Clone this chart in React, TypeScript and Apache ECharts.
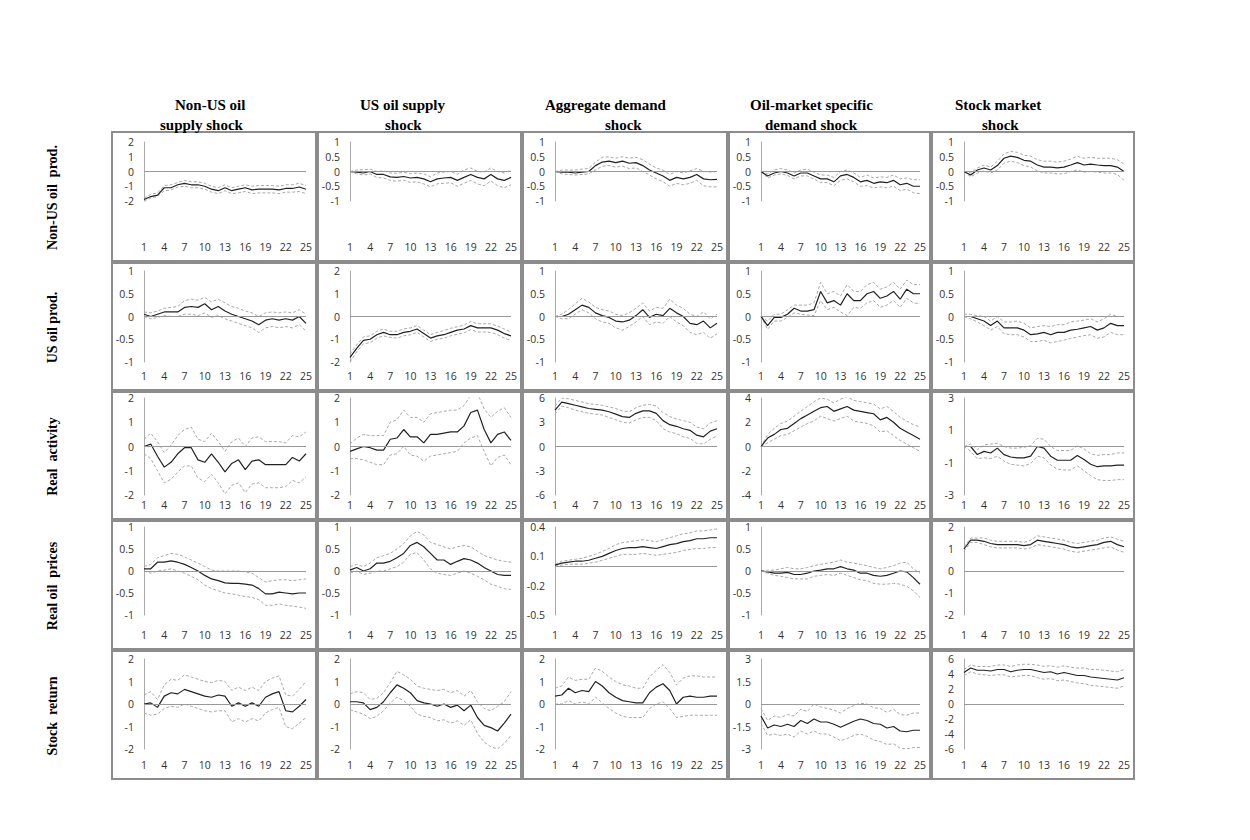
import { useEffect, useRef } from 'react';
import * as echarts from 'echarts';

const steps = Array.from({ length: 25 }, (_, i) => String(i + 1));
const colTitles = [
    ['Non-US oil', 'supply shock'],
    ['US oil supply', 'shock'],
    ['Aggregate demand', 'shock'],
    ['Oil-market specific', 'demand shock'],
    ['Stock market', 'shock'],
];
const rowTitles = ['Non-US oil  prod.', 'US oil prod.', 'Real  activity', 'Real oil  prices', 'Stock  return'];

// y range per panel: [min, max, interval]
const yRanges = [
    [[-2, 2, 1], [-1, 1, 0.5], [-1, 1, 0.5], [-1, 1, 0.5], [-1, 1, 0.5]],
    [[-1, 1, 0.5], [-2, 2, 1], [-1, 1, 0.5], [-1, 1, 0.5], [-1, 1, 0.5]],
    [[-2, 2, 1], [-2, 2, 1], [-6, 6, 3], [-4, 4, 2], [-3, 3, 2]],
    [[-1, 1, 0.5], [-1, 1, 0.5], [-0.5, 0.4, 0.3], [-1, 1, 0.5], [-2, 2, 1]],
    [[-2, 2, 1], [-2, 2, 1], [-2, 2, 1], [-3, 3, 1.5], [-6, 6, 2]],
];

// row 1: Non-US oil production
const r1c1Mid = [-1.9, -1.7, -1.6, -1.1, -1.1, -0.9, -0.8, -0.9, -0.9, -1.0, -1.2, -1.3, -1.1, -1.3, -1.2, -1.1, -1.25, -1.2, -1.2, -1.2, -1.25, -1.15, -1.15, -1.05, -1.2];
const r1c1Lo = [-2.0, -1.8, -1.7, -1.3, -1.25, -1.05, -1.0, -1.1, -1.1, -1.2, -1.4, -1.5, -1.3, -1.5, -1.45, -1.35, -1.5, -1.45, -1.45, -1.45, -1.5, -1.4, -1.4, -1.35, -1.5];
const r1c1Hi = [-1.8, -1.55, -1.45, -0.95, -0.9, -0.75, -0.6, -0.7, -0.7, -0.8, -1.0, -1.1, -0.9, -1.1, -1.0, -0.9, -1.0, -0.95, -0.95, -0.95, -1.0, -0.9, -0.9, -0.8, -0.95];
const r1c2Mid = [0, -0.02, -0.05, 0, -0.1, -0.1, -0.18, -0.2, -0.17, -0.22, -0.2, -0.25, -0.35, -0.25, -0.22, -0.2, -0.3, -0.2, -0.1, -0.2, -0.25, -0.1, -0.25, -0.3, -0.2];
const r1c2Lo = [0, -0.08, -0.12, -0.08, -0.2, -0.22, -0.3, -0.33, -0.3, -0.37, -0.35, -0.42, -0.52, -0.42, -0.4, -0.38, -0.5, -0.4, -0.3, -0.42, -0.48, -0.32, -0.48, -0.55, -0.45];
const r1c2Hi = [0, 0.05, 0.06, 0.08, 0, 0.02, -0.05, -0.06, -0.03, -0.07, -0.05, -0.08, -0.18, -0.05, -0.02, 0, -0.1, 0.05, 0.12, 0, -0.02, 0.12, 0, -0.05, 0.05];
const r1c3Mid = [0, -0.02, -0.02, -0.05, -0.02, 0, 0.2, 0.32, 0.35, 0.3, 0.35, 0.28, 0.3, 0.2, 0.05, -0.05, -0.15, -0.3, -0.2, -0.25, -0.2, -0.1, -0.25, -0.28, -0.27];
const r1c3Lo = [0, -0.08, -0.1, -0.12, -0.1, -0.08, 0.05, 0.18, 0.2, 0.15, 0.18, 0.1, 0.12, 0, -0.12, -0.25, -0.35, -0.5, -0.4, -0.45, -0.4, -0.3, -0.48, -0.52, -0.52];
const r1c3Hi = [0, 0.05, 0.05, 0.05, 0.08, 0.1, 0.32, 0.48, 0.5, 0.45, 0.5, 0.45, 0.48, 0.4, 0.25, 0.12, 0.05, -0.1, 0, -0.05, 0.02, 0.1, 0, -0.02, 0];
const r1c4Mid = [0, -0.15, -0.05, 0, -0.05, -0.15, -0.05, -0.05, -0.15, -0.25, -0.25, -0.35, -0.15, -0.1, -0.2, -0.35, -0.3, -0.4, -0.35, -0.38, -0.3, -0.45, -0.4, -0.5, -0.5];
const r1c4Lo = [0, -0.22, -0.12, -0.08, -0.13, -0.25, -0.15, -0.15, -0.26, -0.37, -0.38, -0.48, -0.3, -0.25, -0.35, -0.5, -0.48, -0.56, -0.52, -0.55, -0.5, -0.65, -0.6, -0.72, -0.75];
const r1c4Hi = [0, -0.08, 0.05, 0.1, 0.05, -0.05, 0.05, 0.08, -0.02, -0.12, -0.12, -0.2, 0, 0.05, -0.05, -0.2, -0.12, -0.22, -0.18, -0.2, -0.12, -0.25, -0.22, -0.28, -0.28];
const r1c5Mid = [0, -0.12, 0.05, 0.12, 0.05, 0.2, 0.45, 0.52, 0.48, 0.38, 0.35, 0.22, 0.15, 0.15, 0.12, 0.15, 0.22, 0.3, 0.22, 0.25, 0.22, 0.2, 0.2, 0.15, 0];
const r1c5Lo = [0, -0.18, -0.05, 0.02, -0.05, 0.05, 0.28, 0.35, 0.3, 0.2, 0.15, 0.02, -0.05, -0.05, -0.08, -0.08, 0, 0.05, -0.02, 0, -0.02, -0.05, -0.05, -0.1, -0.3];
const r1c5Hi = [0, -0.05, 0.12, 0.22, 0.15, 0.35, 0.6, 0.68, 0.65, 0.55, 0.52, 0.4, 0.35, 0.35, 0.32, 0.35, 0.42, 0.52, 0.45, 0.48, 0.45, 0.45, 0.45, 0.4, 0.25];

// row 2: US oil production
const r2c1Mid = [0.05, 0, 0.05, 0.1, 0.1, 0.1, 0.2, 0.22, 0.2, 0.28, 0.15, 0.22, 0.12, 0.05, 0, -0.05, -0.1, -0.18, -0.08, -0.05, -0.08, -0.05, -0.08, 0, -0.15];
const r2c1Lo = [0, -0.05, -0.02, 0.02, 0, 0, 0.05, 0.05, 0.02, 0.08, -0.02, 0.02, -0.05, -0.1, -0.15, -0.2, -0.25, -0.35, -0.25, -0.22, -0.25, -0.22, -0.25, -0.18, -0.32];
const r2c1Hi = [0.1, 0.08, 0.12, 0.18, 0.2, 0.22, 0.35, 0.38, 0.36, 0.42, 0.32, 0.38, 0.3, 0.22, 0.18, 0.12, 0.08, 0, 0.08, 0.1, 0.08, 0.1, 0.08, 0.15, 0.05];
const r2c2Mid = [-1.8, -1.4, -1.05, -1.0, -0.8, -0.7, -0.8, -0.8, -0.7, -0.65, -0.55, -0.75, -0.95, -0.85, -0.8, -0.7, -0.6, -0.55, -0.4, -0.5, -0.5, -0.5, -0.6, -0.75, -0.85];
const r2c2Lo = [-2.0, -1.55, -1.2, -1.15, -0.95, -0.85, -0.92, -0.95, -0.85, -0.8, -0.7, -0.9, -1.1, -1.0, -0.95, -0.85, -0.78, -0.72, -0.58, -0.68, -0.68, -0.7, -0.8, -0.95, -1.05];
const r2c2Hi = [-1.65, -1.25, -0.9, -0.85, -0.65, -0.55, -0.65, -0.65, -0.55, -0.5, -0.4, -0.6, -0.8, -0.7, -0.62, -0.52, -0.45, -0.38, -0.22, -0.32, -0.32, -0.32, -0.42, -0.55, -0.68];
const r2c3Mid = [0, 0, 0.05, 0.15, 0.25, 0.2, 0.08, 0.02, -0.02, -0.1, -0.12, -0.08, 0.02, 0.15, -0.02, 0.05, 0.02, 0.18, 0.08, 0, -0.15, -0.18, -0.1, -0.25, -0.15];
const r2c3Lo = [0, -0.05, -0.05, 0.05, 0.15, 0.08, -0.05, -0.12, -0.15, -0.25, -0.3, -0.22, -0.12, 0, -0.18, -0.12, -0.15, 0, -0.12, -0.2, -0.35, -0.4, -0.35, -0.48, -0.38];
const r2c3Hi = [0, 0.05, 0.15, 0.28, 0.4, 0.32, 0.2, 0.15, 0.12, 0.05, 0.02, 0.08, 0.18, 0.3, 0.12, 0.2, 0.18, 0.38, 0.25, 0.18, 0.05, 0, 0.1, -0.05, 0.05];
const r2c4Mid = [0, -0.2, -0.02, -0.02, 0.05, 0.18, 0.12, 0.12, 0.15, 0.55, 0.3, 0.35, 0.25, 0.5, 0.35, 0.35, 0.5, 0.55, 0.4, 0.45, 0.55, 0.38, 0.6, 0.5, 0.5];
const r2c4Lo = [0, -0.28, -0.1, -0.1, -0.02, 0.08, 0.05, 0.03, 0.02, 0.35, 0.15, 0.2, 0.1, 0.02, 0.2, 0.18, 0.3, 0.35, 0.2, 0.25, 0.35, 0.2, 0.4, 0.3, 0.28];
const r2c4Hi = [0, -0.1, 0.05, 0.05, 0.15, 0.25, 0.25, 0.25, 0.3, 0.75, 0.5, 0.55, 0.45, 0.7, 0.55, 0.55, 0.7, 0.75, 0.6, 0.65, 0.75, 0.6, 0.8, 0.7, 0.7];
const r2c5Mid = [0, 0, -0.05, -0.1, -0.2, -0.1, -0.25, -0.25, -0.25, -0.3, -0.4, -0.38, -0.35, -0.4, -0.35, -0.35, -0.3, -0.28, -0.25, -0.22, -0.3, -0.25, -0.15, -0.2, -0.2];
const r2c5Lo = [0, -0.05, -0.12, -0.2, -0.3, -0.22, -0.38, -0.4, -0.4, -0.45, -0.55, -0.55, -0.52, -0.58, -0.55, -0.52, -0.48, -0.45, -0.42, -0.4, -0.48, -0.45, -0.35, -0.4, -0.4];
const r2c5Hi = [0.05, 0.05, 0.02, 0, -0.1, 0, -0.12, -0.12, -0.1, -0.15, -0.25, -0.22, -0.2, -0.22, -0.18, -0.18, -0.12, -0.1, -0.08, -0.05, -0.12, -0.05, 0.05, 0, 0];

// row 3: real activity
const r3c1Mid = [0, 0.1, -0.4, -0.85, -0.65, -0.3, -0.05, -0.05, -0.55, -0.65, -0.3, -0.65, -1.05, -0.7, -0.55, -0.95, -0.6, -0.55, -0.75, -0.75, -0.75, -0.75, -0.45, -0.6, -0.3];
const r3c1Lo = [-0.3, -0.5, -1.0, -1.5, -1.35, -1.05, -0.8, -0.8, -1.3, -1.45, -1.15, -1.5, -1.95, -1.6, -1.5, -1.9, -1.55, -1.5, -1.7, -1.7, -1.7, -1.65, -1.4, -1.5, -1.25];
const r3c1Hi = [0.3, 0.55, 0.2, -0.25, 0.05, 0.45, 0.7, 0.8, 0.3, 0.2, 0.55, 0.2, -0.2, 0.2, 0.35, 0, 0.35, 0.4, 0.2, 0.2, 0.2, 0.15, 0.45, 0.4, 0.6];
const r3c2Mid = [-0.2, -0.1, 0, -0.05, -0.15, -0.15, 0.3, 0.35, 0.7, 0.4, 0.4, 0.15, 0.5, 0.5, 0.55, 0.6, 0.6, 0.85, 1.4, 1.5, 0.7, 0.15, 0.5, 0.6, 0.25];
const r3c2Lo = [-0.5, -0.5, -0.55, -0.65, -0.75, -0.75, -0.35, -0.3, 0, -0.35, -0.4, -0.6, -0.4, -0.35, -0.3, -0.25, -0.2, 0.15, 0.35, 0.45, -0.2, -0.8, -0.45, -0.35, -0.75];
const r3c2Hi = [0.1, 0.35, 0.5, 0.45, 0.45, 0.45, 1.0, 1.1, 1.5, 1.2, 1.2, 1.0, 1.35, 1.4, 1.45, 1.5, 1.5, 1.7, 2.1, 2.2, 1.55, 1.2, 1.45, 1.6, 1.2];
const r3c3Mid = [4.5, 5.5, 5.3, 5.1, 4.9, 4.7, 4.6, 4.5, 4.3, 4.0, 3.7, 3.6, 4.1, 4.4, 4.4, 4.1, 3.2, 2.7, 2.5, 2.2, 2.0, 1.4, 1.2, 1.9, 2.2];
const r3c3Lo = [4.0, 5.0, 4.8, 4.5, 4.3, 4.1, 4.0, 3.9, 3.6, 3.3, 3.0, 2.9, 3.3, 3.6, 3.6, 3.2, 2.2, 1.8, 1.6, 1.2, 1.0, 0.4, 0.3, 0.9, 1.3];
const r3c3Hi = [5.0, 6.0, 5.9, 5.7, 5.5, 5.3, 5.2, 5.1, 4.9, 4.7, 4.4, 4.3, 4.8, 5.1, 5.2, 5.0, 4.2, 3.7, 3.4, 3.2, 3.0, 2.4, 2.2, 2.9, 3.2];
const r3c4Mid = [0, 0.7, 1.0, 1.4, 1.5, 1.9, 2.3, 2.6, 2.9, 3.2, 3.3, 2.9, 3.1, 3.3, 3.0, 2.9, 2.8, 2.7, 2.2, 2.4, 2.0, 1.5, 1.2, 0.9, 0.6];
const r3c4Lo = [0, 0.3, 0.6, 0.9, 1.0, 1.3, 1.6, 1.9, 2.1, 2.5, 2.3, 2.1, 2.3, 2.5, 2.1, 2.0, 1.9, 1.7, 1.2, 1.3, 0.9, 0.5, 0.2, -0.1, -0.4];
const r3c4Hi = [0, 1.0, 1.5, 1.9, 2.1, 2.5, 2.9, 3.3, 3.7, 4.0, 3.9, 3.6, 3.9, 4.1, 3.8, 3.7, 3.6, 3.5, 3.1, 3.3, 2.9, 2.4, 2.1, 1.8, 1.6];
const r3c5Mid = [0, 0, -0.5, -0.3, -0.4, -0.1, -0.5, -0.65, -0.7, -0.7, -0.6, 0, -0.1, -0.6, -0.85, -0.85, -0.85, -0.55, -0.8, -1.1, -1.25, -1.2, -1.2, -1.15, -1.15];
const r3c5Lo = [0, -0.3, -0.75, -0.7, -0.75, -0.6, -0.9, -1.1, -1.15, -1.2, -1.05, -0.6, -0.7, -1.15, -1.4, -1.45, -1.45, -1.2, -1.5, -1.8, -2.05, -2.1, -2.1, -2.05, -2.05];
const r3c5Hi = [0, 0.15, -0.2, 0.1, 0.15, 0.2, 0, -0.1, -0.1, -0.05, 0.05, 0.5, 0.45, 0, -0.25, -0.25, -0.25, 0.05, -0.15, -0.45, -0.55, -0.5, -0.5, -0.4, -0.4];

// row 4: real oil prices
const r4c1Mid = [0.05, 0.05, 0.2, 0.2, 0.23, 0.2, 0.15, 0.08, 0, -0.1, -0.18, -0.22, -0.27, -0.28, -0.28, -0.3, -0.32, -0.4, -0.52, -0.52, -0.48, -0.5, -0.52, -0.5, -0.5];
const r4c1Lo = [0, -0.05, 0, 0.02, 0.05, 0, -0.05, -0.12, -0.2, -0.32, -0.4, -0.45, -0.5, -0.52, -0.55, -0.58, -0.6, -0.65, -0.78, -0.78, -0.75, -0.78, -0.8, -0.82, -0.85];
const r4c1Hi = [0.1, 0.15, 0.3, 0.35, 0.4, 0.38, 0.32, 0.25, 0.18, 0.1, 0.02, 0, 0, 0, 0, -0.02, -0.05, -0.15, -0.25, -0.22, -0.2, -0.2, -0.22, -0.2, -0.18];
const r4c2Mid = [0.02, 0.08, 0, 0.05, 0.18, 0.18, 0.22, 0.3, 0.4, 0.58, 0.65, 0.55, 0.4, 0.25, 0.25, 0.15, 0.22, 0.28, 0.25, 0.18, 0.08, 0, -0.08, -0.1, -0.1];
const r4c2Lo = [-0.05, 0, -0.08, -0.05, 0, 0, 0.05, 0.1, 0.2, 0.38, 0.42, 0.25, 0.05, -0.05, -0.08, -0.1, -0.05, 0, -0.05, -0.12, -0.2, -0.3, -0.35, -0.4, -0.42];
const r4c2Hi = [0.1, 0.15, 0.1, 0.18, 0.3, 0.35, 0.4, 0.5, 0.62, 0.8, 0.9, 0.82, 0.65, 0.6, 0.55, 0.5, 0.55, 0.58, 0.55, 0.45, 0.35, 0.3, 0.25, 0.22, 0.2];
const r4c3Mid = [0.01, 0.03, 0.04, 0.05, 0.05, 0.06, 0.08, 0.1, 0.13, 0.16, 0.18, 0.19, 0.19, 0.2, 0.19, 0.18, 0.2, 0.22, 0.23, 0.25, 0.26, 0.28, 0.28, 0.29, 0.29];
const r4c3Lo = [0, 0.01, 0.02, 0.02, 0.02, 0.03, 0.04, 0.06, 0.08, 0.1, 0.12, 0.12, 0.12, 0.13, 0.12, 0.11, 0.12, 0.13, 0.14, 0.16, 0.17, 0.18, 0.18, 0.19, 0.19];
const r4c3Hi = [0.02, 0.05, 0.06, 0.07, 0.08, 0.1, 0.12, 0.15, 0.18, 0.22, 0.24, 0.25, 0.26, 0.27, 0.26, 0.25, 0.27, 0.29, 0.31, 0.33, 0.34, 0.36, 0.36, 0.37, 0.38];
const r4c4Mid = [0, -0.02, -0.05, -0.05, -0.03, -0.08, -0.08, -0.05, 0, 0.02, 0.05, 0.05, 0.1, 0.05, 0.02, -0.05, -0.05, -0.1, -0.12, -0.1, -0.05, 0, -0.02, -0.15, -0.3];
const r4c4Lo = [0, -0.05, -0.1, -0.12, -0.15, -0.18, -0.18, -0.18, -0.12, -0.1, -0.08, -0.1, -0.05, -0.1, -0.15, -0.2, -0.22, -0.28, -0.3, -0.3, -0.28, -0.3, -0.35, -0.45, -0.6];
const r4c4Hi = [0, 0.02, 0.02, 0.05, 0.08, 0.05, 0.05, 0.08, 0.12, 0.15, 0.18, 0.2, 0.25, 0.2, 0.18, 0.15, 0.12, 0.08, 0.05, 0.08, 0.12, 0.18, 0.2, 0.05, -0.05];
const r4c5Mid = [1.0, 1.4, 1.4, 1.35, 1.25, 1.2, 1.2, 1.2, 1.2, 1.15, 1.2, 1.4, 1.35, 1.3, 1.25, 1.2, 1.1, 1.05, 1.1, 1.15, 1.2, 1.3, 1.35, 1.2, 1.1];
const r4c5Lo = [0.9, 1.3, 1.3, 1.2, 1.1, 1.05, 1.05, 1.05, 1.05, 1.0, 1.05, 1.2, 1.15, 1.1, 1.05, 1.0, 0.9, 0.85, 0.9, 0.95, 1.0, 1.05, 1.1, 0.95, 0.85];
const r4c5Hi = [1.1, 1.5, 1.5, 1.5, 1.4, 1.35, 1.35, 1.35, 1.35, 1.3, 1.4, 1.6, 1.55, 1.5, 1.45, 1.4, 1.3, 1.25, 1.3, 1.35, 1.4, 1.5, 1.55, 1.45, 1.35];

// row 5: stock return
const r5c1Mid = [0, 0.05, -0.15, 0.35, 0.5, 0.45, 0.65, 0.55, 0.45, 0.35, 0.3, 0.4, 0.35, -0.1, 0.05, -0.1, 0.05, -0.1, 0.3, 0.45, 0.55, -0.3, -0.35, -0.1, 0.2];
const r5c1Lo = [-0.4, -0.5, -0.45, -0.2, -0.1, -0.15, 0, -0.1, -0.2, -0.3, -0.35, -0.3, -0.3, -0.8, -0.65, -0.8, -0.65, -0.75, -0.4, -0.25, -0.15, -1.0, -1.1, -0.85, -0.6];
const r5c1Hi = [0.4, 0.55, 0.2, 0.85, 1.1, 1.05, 1.3, 1.2, 1.1, 1.0, 0.95, 1.05, 1.0, 0.6, 0.75, 0.6, 0.75, 0.6, 1.0, 1.15, 1.25, 0.4, 0.35, 0.65, 1.0];
const r5c2Mid = [0.1, 0.1, 0.05, -0.25, -0.15, 0.1, 0.5, 0.85, 0.7, 0.5, 0.15, 0.05, 0, -0.1, 0, -0.15, -0.05, -0.3, -0.05, -0.6, -0.95, -1.05, -1.2, -0.85, -0.45];
const r5c2Lo = [-0.25, -0.35, -0.45, -0.65, -0.55, -0.3, 0.05, 0.3, 0.15, -0.1, -0.45, -0.55, -0.6, -0.75, -0.7, -0.85, -0.75, -0.95, -0.7, -1.3, -1.7, -1.9, -2.0, -1.75, -1.4];
const r5c2Hi = [0.45, 0.55, 0.5, 0.2, 0.25, 0.5, 0.95, 1.45, 1.3, 1.1, 0.8, 0.7, 0.65, 0.6, 0.65, 0.5, 0.6, 0.35, 0.6, 0.1, -0.2, -0.3, -0.1, 0.1, 0.55];
const r5c3Mid = [0.35, 0.4, 0.7, 0.5, 0.6, 0.55, 1.0, 0.8, 0.5, 0.3, 0.15, 0.1, 0.05, 0.05, 0.5, 0.75, 0.9, 0.6, 0, 0.3, 0.35, 0.3, 0.3, 0.35, 0.35];
const r5c3Lo = [0, 0, 0.15, 0, 0.1, 0, 0.3, 0.05, -0.2, -0.4, -0.55, -0.6, -0.6, -0.6, -0.2, 0, 0.1, -0.2, -0.6, -0.55, -0.5, -0.5, -0.5, -0.5, -0.5];
const r5c3Hi = [0.7, 0.8, 1.2, 1.05, 1.1, 1.1, 1.6, 1.45, 1.2, 1.0, 0.85, 0.8, 0.7, 0.7, 1.2, 1.5, 1.75, 1.4, 0.85, 1.15, 1.25, 1.25, 1.2, 1.2, 1.2];
const r5c4Mid = [-0.8, -1.6, -1.4, -1.5, -1.35, -1.5, -1.1, -1.3, -1.0, -1.2, -1.2, -1.35, -1.55, -1.35, -1.15, -1.0, -1.1, -1.3, -1.35, -1.6, -1.5, -1.8, -1.85, -1.75, -1.75];
const r5c4Lo = [-1.3, -2.1, -2.0, -2.1, -2.0, -2.2, -1.8, -2.0, -1.8, -2.0, -2.0, -2.2, -2.45, -2.3, -2.1, -2.0, -2.15, -2.4, -2.5, -2.7, -2.65, -2.95, -3.0, -2.9, -2.9];
const r5c4Hi = [-0.3, -1.1, -0.8, -0.9, -0.7, -0.8, -0.35, -0.5, 0, -0.2, -0.3, -0.4, -0.6, -0.3, -0.1, 0.05, 0, -0.25, -0.3, -0.55, -0.35, -0.7, -0.75, -0.6, -0.6];
const r5c5Mid = [4.2, 4.8, 4.5, 4.5, 4.4, 4.6, 4.6, 4.3, 4.5, 4.6, 4.6, 4.4, 4.2, 4.3, 4.0, 4.2, 4.0, 3.8, 3.8, 3.6, 3.5, 3.4, 3.3, 3.2, 3.5];
const r5c5Lo = [3.8, 4.3, 4.0, 3.9, 3.8, 3.9, 3.9, 3.6, 3.7, 3.8, 3.8, 3.5, 3.3, 3.4, 3.1, 3.2, 3.0, 2.8, 2.7, 2.5, 2.4, 2.3, 2.2, 2.1, 2.4];
const r5c5Hi = [4.6, 5.2, 5.0, 5.0, 5.0, 5.2, 5.2, 5.0, 5.2, 5.3, 5.3, 5.2, 5.0, 5.1, 4.9, 5.1, 4.9, 4.8, 4.8, 4.6, 4.6, 4.5, 4.4, 4.3, 4.6];

const panels = [
    [[r1c1Mid, r1c1Lo, r1c1Hi], [r1c2Mid, r1c2Lo, r1c2Hi], [r1c3Mid, r1c3Lo, r1c3Hi], [r1c4Mid, r1c4Lo, r1c4Hi], [r1c5Mid, r1c5Lo, r1c5Hi]],
    [[r2c1Mid, r2c1Lo, r2c1Hi], [r2c2Mid, r2c2Lo, r2c2Hi], [r2c3Mid, r2c3Lo, r2c3Hi], [r2c4Mid, r2c4Lo, r2c4Hi], [r2c5Mid, r2c5Lo, r2c5Hi]],
    [[r3c1Mid, r3c1Lo, r3c1Hi], [r3c2Mid, r3c2Lo, r3c2Hi], [r3c3Mid, r3c3Lo, r3c3Hi], [r3c4Mid, r3c4Lo, r3c4Hi], [r3c5Mid, r3c5Lo, r3c5Hi]],
    [[r4c1Mid, r4c1Lo, r4c1Hi], [r4c2Mid, r4c2Lo, r4c2Hi], [r4c3Mid, r4c3Lo, r4c3Hi], [r4c4Mid, r4c4Lo, r4c4Hi], [r4c5Mid, r4c5Lo, r4c5Hi]],
    [[r5c1Mid, r5c1Lo, r5c1Hi], [r5c2Mid, r5c2Lo, r5c2Hi], [r5c3Mid, r5c3Lo, r5c3Hi], [r5c4Mid, r5c4Lo, r5c4Hi], [r5c5Mid, r5c5Lo, r5c5Hi]],
];

// panel frames (px)
const colX = [112, 318, 523, 729, 932, 1136];
const rowY = [132, 263, 392, 521, 651, 781];
const plotTop = [10, 8, 6, 6, 8];
const plotBottom = [60, 28, 24, 34, 30];
const serif = '"Liberation Serif", "Times New Roman", serif';
const sans = '"Open Sans", "Liberation Sans", sans-serif';

const App = () => {
    const chartRef = useRef<HTMLDivElement | null>(null);
    useEffect(() => {
        if (!chartRef.current) return;
        const chart = echarts.init(chartRef.current, undefined, { renderer: 'svg' });
        const grid: any[] = [];
        const xAxis: any[] = [];
        const yAxis: any[] = [];
        const series: any[] = [];
        const graphic: any[] = [];
        for (let r = 0; r < 5; r++) {
            for (let c = 0; c < 5; c++) {
                const idx = r * 5 + c;
                const left = colX[c], right = colX[c + 1] - 2;
                const top = rowY[r], bottom = rowY[r + 1] - 2;
                graphic.push({
                    type: 'rect', shape: { x: left, y: top, width: right - left, height: bottom - top },
                    style: { fill: 'none', stroke: '#8c8c8c', lineWidth: 2 }, silent: true,
                });
                grid.push({ left: left + 32, top: top + plotTop[r], width: right - left - 42, height: bottom - top - plotTop[r] - plotBottom[r] });
                xAxis.push({
                    type: 'category', gridIndex: idx, data: steps, boundaryGap: false,
                    axisLine: { show: false }, axisTick: { show: false }, splitLine: { show: false },
                    axisLabel: { interval: 2, fontSize: 10.5, color: '#333', fontFamily: sans, margin: Math.max(plotBottom[r] - 20, 3) },
                });
                const [mn, mx, step] = yRanges[r][c];
                yAxis.push({
                    type: 'value', gridIndex: idx, min: mn, max: mx, interval: step,
                    axisLine: { show: true, lineStyle: { color: '#aaa', width: 1 } }, axisTick: { show: false },
                    splitLine: { show: false },
                    axisLabel: { fontSize: 10.5, color: '#333', fontFamily: sans, margin: 10 },
                });
                const [mid, lo, hi] = panels[r][c];
                const dashed = { color: '#a8a8a8', width: 1, type: [3, 2] };
                series.push({ type: 'line', xAxisIndex: idx, yAxisIndex: idx, data: lo, symbol: 'none', lineStyle: dashed });
                series.push({ type: 'line', xAxisIndex: idx, yAxisIndex: idx, data: hi, symbol: 'none', lineStyle: dashed });
                series.push({
                    type: 'line', xAxisIndex: idx, yAxisIndex: idx, data: mid, symbol: 'none', z: 3,
                    lineStyle: { color: '#222', width: 1.2 },
                    markLine: {
                        silent: true, symbol: 'none', label: { show: false },
                        lineStyle: { color: '#999', type: 'solid', width: 1 }, data: [{ yAxis: 0 }],
                    },
                });
            }
        }
        const titleX = [175, 360, 545, 750, 955];
        const titleX2 = [160, 385, 605, 765, 982];
        colTitles.forEach((t, c) => {
            graphic.push({ type: 'text', x: titleX[c], y: 97, style: { text: t[0], font: `bold 15px ${serif}`, fill: '#000' } });
            graphic.push({ type: 'text', x: titleX2[c], y: 117, style: { text: t[1], font: `bold 15px ${serif}`, fill: '#000' } });
        });
        rowTitles.forEach((t, r) => {
            graphic.push({
                type: 'text', x: 52, y: (rowY[r] + rowY[r + 1]) / 2, rotation: Math.PI / 2,
                style: { text: t, font: `bold 14px ${serif}`, fill: '#000', align: 'center', verticalAlign: 'middle' },
            });
        });
        chart.setOption({ animation: false, grid, xAxis, yAxis, series, graphic });
        return () => chart.dispose();
    }, []);
    return <div ref={chartRef} style={{ position: 'fixed', left: 0, top: 0, width: 1250, height: 840, background: '#fff' }} />;
};

export default App;
